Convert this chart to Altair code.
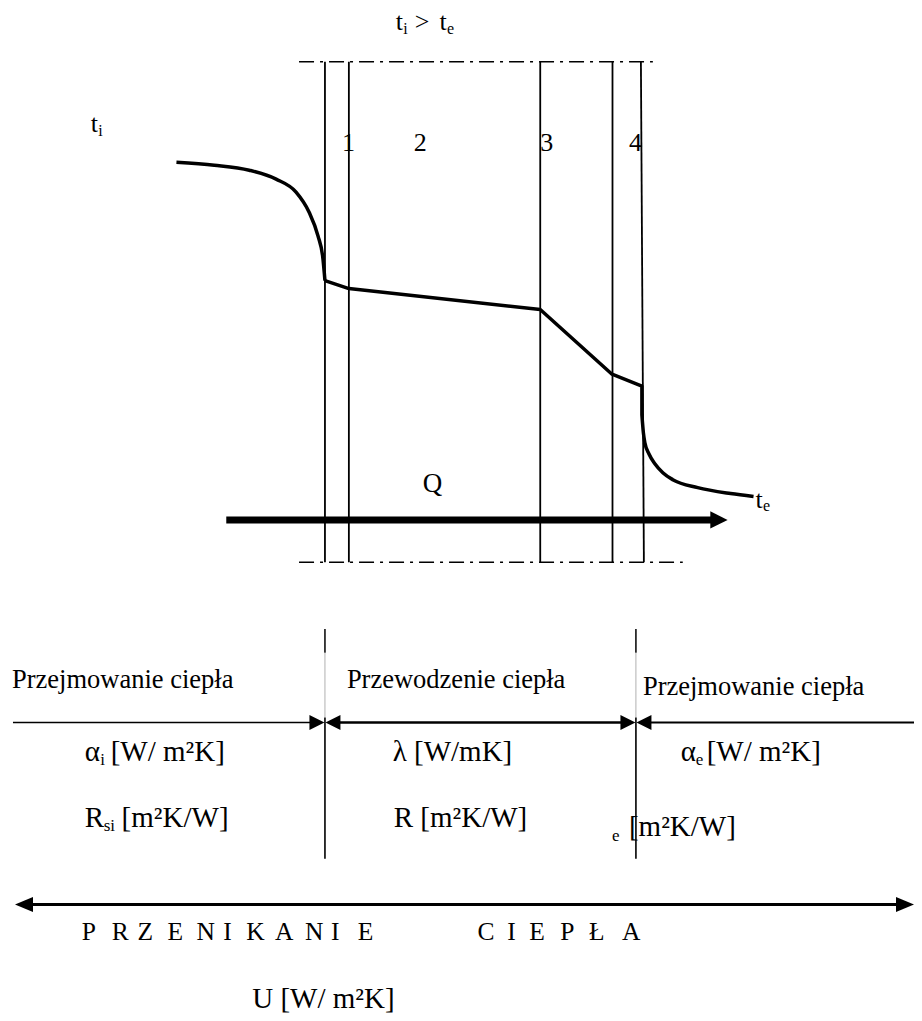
import altair as alt
import pandas as pd

# ---------------- data (reference-pixel units) ----------------
# wall layer boundaries
boundary_x_top = [326, 350, 542, 614.5, 643]
boundary_x_bottom = [326, 350, 542, 614.5, 646]
wall_top_y = 62
wall_bottom_y = 565
guide_top_x = [300, 655]
guide_bottom_x = [300, 685]

layer_labels = ["1", "2", "3", "4"]
layer_label_x = [343, 415, 542, 631]
layer_label_y = [152, 152, 152, 152]

# temperature profile t(x): inside air, through the wall, outside air
inside_x = [177, 215, 250, 277, 297, 310, 319, 324, 326]
inside_y = [163, 166, 171, 180, 193, 213, 237, 260, 282]
wall_x = [326, 350, 542, 614, 644, 644]
wall_y = [282, 290, 311, 376, 388, 417]
outside_x = [644, 645.5, 647, 651, 657, 665, 675, 700, 733, 756]
outside_y = [417, 435, 445, 456, 466, 475, 482, 490, 496, 499]

# heat-flow arrow Q
q_arrow_x = [227, 716]
q_arrow_y = 522.5

# lower scheme: dividers and dimension lines
divider_x = [326, 638]
divider_y = [632, 863]
dim_y = 726
dim_segments_x = [[13, 320], [332, 632], [644, 922]]
total_y = 909
total_x = [20, 912]

# spaced heading "PRZENIKANIE CIEPŁA"
heading_letters = list("PRZENIKANIE") + list("CIEPŁA")
heading_x = [82, 112, 138, 168, 197, 224, 247, 276, 306, 332, 359,
             479, 509, 531, 562, 591, 624]
heading_y = 945

# text pieces: (text, x, baseline y, size)
text_items = [
    ("t", 397, 30, 26), ("i", 404.5, 34, 16), (">", 416, 30, 26),
    ("t", 441, 30, 26), ("e", 448.5, 34, 16),
    ("t", 91, 133, 26), ("i", 98.5, 137, 16),
    ("Q", 424, 494, 27),
    ("t", 758, 510, 26), ("e", 765.5, 514, 16),
    ("Przejmowanie ciepła", 12, 691, 26.5),
    ("Przewodzenie ciepła", 348, 691, 26.5),
    ("Przejmowanie ciepła", 645, 698, 26.5),
    ("α", 85, 765, 29), ("i", 100.5, 769, 17), ("[W/ m²K]", 111, 765, 29),
    ("λ [W/mK]", 394, 765, 29),
    ("α", 683, 765, 29), ("e", 698, 769, 17), ("[W/ m²K]", 709, 765, 29),
    ("R", 85, 831, 29), ("si", 104, 835, 17), ("[m²K/W]", 122, 831, 29),
    ("R [m²K/W]", 395, 831, 29),
    ("e", 614, 845, 17), ("[m²K/W]", 631, 840, 29),
    ("U [W/ m²K]", 253, 1013, 29),
]

# ---------------- tables ----------------
xs = alt.Scale(domain=[8, 917], nice=False, zero=False)
ys = alt.Scale(domain=[8, 1018], nice=False, zero=False, reverse=True)

rules = []
for xt, xb in zip(boundary_x_top, boundary_x_bottom):
    rules.append(dict(x=xt, x2=xb, y=wall_top_y, y2=wall_bottom_y, w=1.8, c="black"))
for dx in divider_x:
    rules.append(dict(x=dx, x2=dx, y=divider_y[0], y2=656, w=1.5, c="black"))
    rules.append(dict(x=dx, x2=dx, y=656, y2=721, w=1.0, c="#b0b0b0"))
    rules.append(dict(x=dx, x2=dx, y=721, y2=divider_y[1], w=1.6, c="black"))
widths = [1.4, 2.4, 2.0]
for (a, b), w in zip(dim_segments_x, widths):
    rules.append(dict(x=a, x2=b, y=dim_y, y2=dim_y, w=w, c="black"))
rules.append(dict(x=total_x[0], x2=total_x[1], y=total_y, y2=total_y, w=3.0, c="black"))
rules.append(dict(x=q_arrow_x[0], x2=q_arrow_x[1], y=q_arrow_y, y2=q_arrow_y, w=7.0, c="black"))
rules_df = pd.DataFrame(rules)

dash_df = pd.DataFrame([
    dict(x=guide_top_x[0], x2=guide_top_x[1], y=wall_top_y, y2=wall_top_y),
    dict(x=guide_bottom_x[0], x2=guide_bottom_x[1], y=wall_bottom_y, y2=wall_bottom_y),
])

RIGHT = "M0,0L-2,-1L-2,1Z"
LEFT = "M0,0L2,-1L2,1Z"
RIGHT_L = "M0,0L-2.4,-1L-2.4,1Z"
LEFT_L = "M0,0L2.4,-1L2.4,1Z"
heads_df = pd.DataFrame([
    dict(x=730, y=q_arrow_y, shape=RIGHT, size=300),
    dict(x=325.5, y=dim_y, shape=RIGHT, size=225),
    dict(x=326.5, y=dim_y, shape=LEFT, size=225),
    dict(x=637.5, y=dim_y, shape=RIGHT, size=225),
    dict(x=638.5, y=dim_y, shape=LEFT, size=225),
    dict(x=15, y=total_y, shape=LEFT_L, size=225),
    dict(x=917, y=total_y, shape=RIGHT_L, size=225),
])


def prof(xv, yv):
    return pd.DataFrame({"x": xv, "y": yv, "i": list(range(len(xv)))})


text_df = pd.DataFrame(text_items, columns=["text", "x", "y", "size"])
heading_df = pd.DataFrame({"text": heading_letters, "x": heading_x,
                           "y": [heading_y] * len(heading_x), "size": [25.5] * len(heading_x)})
text_df = pd.concat([text_df, heading_df], ignore_index=True)
label_df = pd.DataFrame({"text": layer_labels, "x": layer_label_x, "y": layer_label_y})

# ---------------- layers ----------------
def X(f="x"):
    return alt.X(f"{f}:Q", scale=xs, axis=None)


def Y(f="y"):
    return alt.Y(f"{f}:Q", scale=ys, axis=None)


rule_layer = alt.Chart(rules_df).mark_rule(strokeCap="butt").encode(
    x=X(), x2="x2:Q", y=Y(), y2="y2:Q",
    strokeWidth=alt.StrokeWidth("w:Q", scale=None),
    color=alt.Color("c:N", scale=None),
)

dash_layer = alt.Chart(dash_df).mark_rule(
    strokeDash=[15, 6, 3, 6], strokeWidth=1.6, color="black", strokeCap="butt"
).encode(x=X(), x2="x2:Q", y=Y(), y2="y2:Q")


def curve(df, interp):
    return alt.Chart(df).mark_line(
        interpolate=interp, strokeWidth=3.5, color="black", strokeJoin="round"
    ).encode(x=X(), y=Y(), order="i:Q")


inside_layer = curve(prof(inside_x, inside_y), "monotone")
wall_layer = curve(prof(wall_x, wall_y), "linear")
outside_layer = curve(prof(outside_x, outside_y), "monotone")

head_layer = alt.Chart(heads_df).mark_point(
    filled=True, color="black", opacity=1, strokeWidth=0
).encode(
    x=X(), y=Y(),
    shape=alt.Shape("shape:N", scale=None),
    size=alt.Size("size:Q", scale=None),
)

text_layer = alt.Chart(text_df).mark_text(
    align="left", baseline="alphabetic", font="Liberation Serif", color="black"
).encode(
    x=X(), y=Y(), text="text:N", size=alt.Size("size:Q", scale=None)
)

label_layer = alt.Chart(label_df).mark_text(
    align="left", baseline="alphabetic", font="Liberation Serif", color="black", fontSize=26
).encode(x=X(), y=Y(), text="text:N")

chart = alt.layer(
    dash_layer, rule_layer, inside_layer, wall_layer, outside_layer,
    head_layer, text_layer, label_layer,
).properties(
    width=906, height=1005, padding=0, autosize=alt.AutoSizeParams(type="none"),
    background="white",
).configure_view(stroke=None)

chart.save("out.html", embed_options={"renderer": "svg", "actions": False})
